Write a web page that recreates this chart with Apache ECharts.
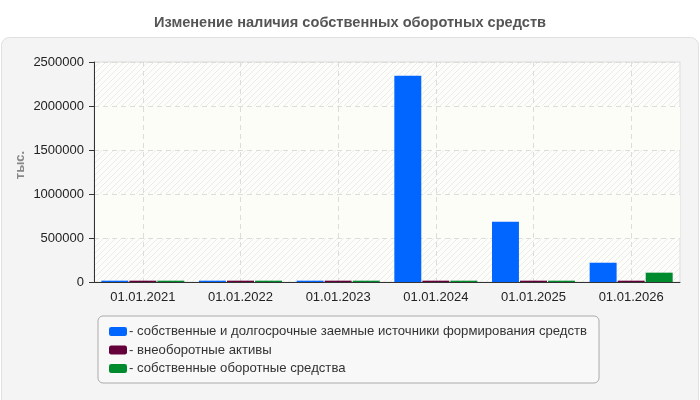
<!DOCTYPE html>
<html><head><meta charset="utf-8">
<script src="https://cdn.jsdelivr.net/npm/echarts@6/dist/echarts.min.js"></script>
<style>html,body{margin:0;padding:0;background:#fff}#c{width:700px;height:400px}</style>
</head><body><div id="c"></div>
<script>
const categories = ['01.01.2021','01.01.2022','01.01.2023','01.01.2024','01.01.2025','01.01.2026'];
const sourcesFunds = [15000, 15000, 15000, 2344000, 685000, 219000];
const nonCurrentAssets = [15000, 15000, 15000, 15000, 15000, 15000];
const ownWorkingCapital = [15000, 15000, 15000, 15000, 15000, 106000];
const seriesNames = ['собственные и долгосрочные заемные источники формирования средств','внеоборотные активы','собственные оборотные средства'];
const yTicks = [0, 500000, 1000000, 1500000, 2000000, 2500000];

const pc = document.createElement('canvas');
pc.width = 6; pc.height = 6;
const g = pc.getContext('2d');
g.fillStyle = '#fdfdf9'; g.fillRect(0,0,6,6);
g.strokeStyle = '#ebebeb'; g.lineWidth = 1;
g.beginPath(); g.moveTo(0,6); g.lineTo(6,0); g.moveTo(-3,3); g.lineTo(3,-3); g.moveTo(3,9); g.lineTo(9,3); g.stroke();

const FF = 'Liberation Sans, Arial, sans-serif';
const chart = echarts.init(document.getElementById('c'));
const lbl = {color:'#222', fontSize:13, fontFamily:FF};
chart.setOption({
  animation:false,
  backgroundColor:'#fff',
  graphic:[
    {type:'rect', z:-10, shape:{x:1.5,y:37.5,width:697,height:370,r:8}, style:{fill:'#f4f4f4', stroke:'#e0e0e0', lineWidth:1}},
    {type:'text', x:20, y:165, rotation:Math.PI/2, style:{text:'тыс.', fill:'#888', font:'bold 13px '+FF, align:'center', verticalAlign:'middle'}}
  ],
  title:{text:'Изменение наличия собственных оборотных средств', left:'center', top:10,
    textStyle:{color:'#555', fontSize:14.6, fontWeight:'bold', fontFamily:FF}},
  grid:{left:94, right:20, top:62, bottom:118, show:true, backgroundColor:{image:pc, repeat:'repeat'}, borderColor:'#dddddd', borderWidth:1},
  legend:{orient:'vertical', left:98, top:316, padding:[9,12,8,11], itemGap:5.5, itemWidth:18, itemHeight:9,
    backgroundColor:'#f8f8f8', borderColor:'#aaaaaa', borderWidth:1, borderRadius:5,
    icon:'roundRect', formatter:n=>'- '+n, textStyle:{color:'#333', fontSize:13.15, fontFamily:FF, padding:[0,0,0,-3]},
    data:seriesNames},
  xAxis:{type:'category', data:categories,
    axisLine:{lineStyle:{color:'#333'}},
    axisTick:{alignWithLabel:true, length:5, lineStyle:{color:'#333'}},
    axisLabel:Object.assign({margin:9}, lbl),
    splitLine:{show:true, alignWithLabel:true, lineStyle:{color:'#dcdcdc', type:[5,4]}}},
  yAxis:{type:'value', min:0, max:2500000, interval:500000,
    axisLine:{show:true, lineStyle:{color:'#333'}},
    axisTick:{show:true, length:5, lineStyle:{color:'#333'}},
    axisLabel:Object.assign({margin:10, formatter:v=>yTicks.includes(v)?String(v):''}, lbl),
    splitLine:{lineStyle:{color:'#dcdcdc', type:[5,4]}},
    splitArea:{show:true, areaStyle:{color:['rgba(0,0,0,0)','#fdfdf7']}}},
  series:[
    {name:seriesNames[0], type:'bar', data:sourcesFunds, itemStyle:{color:'#0066ff'}, barGap:'4%', barCategoryGap:'15%'},
    {name:seriesNames[1], type:'bar', data:nonCurrentAssets, itemStyle:{color:'#66003a'}},
    {name:seriesNames[2], type:'bar', data:ownWorkingCapital, itemStyle:{color:'#008a2e'}}
  ]
});
</script></body></html>
